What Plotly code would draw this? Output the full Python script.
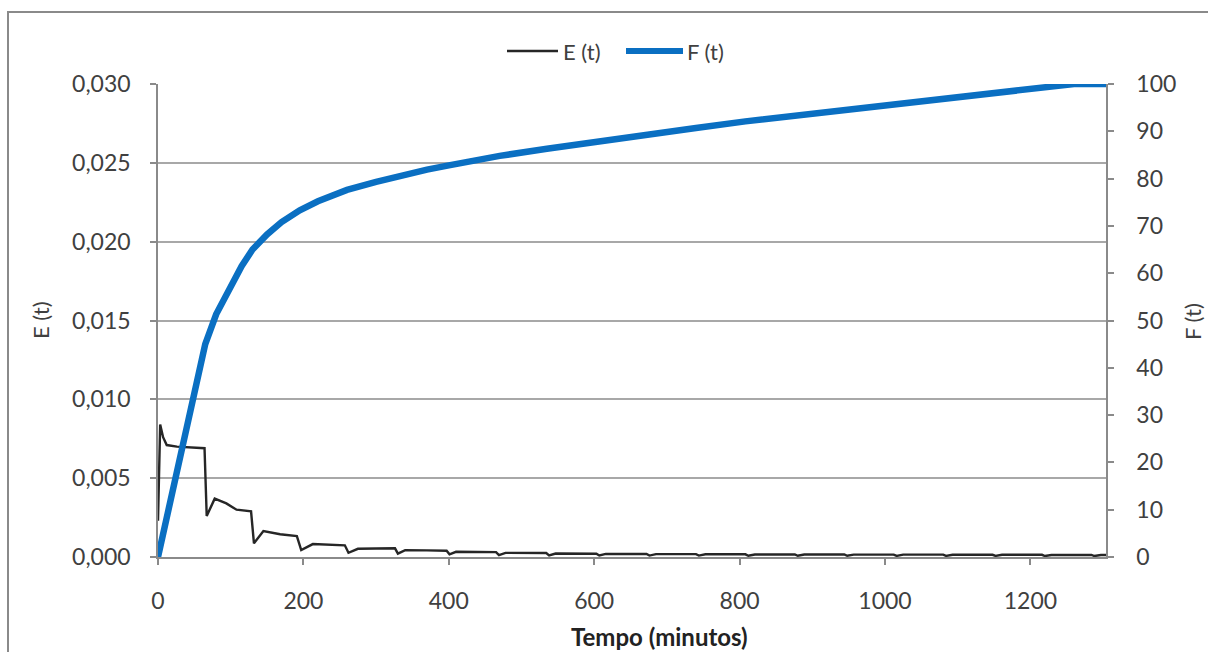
import plotly.graph_objects as go

# Residence-time distribution E(t) and cumulative curve F(t)
t_E = [0, 3, 7, 12, 26, 45, 64, 67, 78, 94, 108, 128, 132, 145, 168, 191,
       197, 213, 235, 257, 262, 275, 300, 326, 330, 340, 370, 397, 401, 410,
       440, 465, 469, 478, 534, 538, 547, 603, 607, 616, 672, 676, 685, 740,
       744, 753, 808, 812, 821, 876, 880, 889, 944, 948, 957, 1012, 1016,
       1025, 1080, 1084, 1093, 1148, 1152, 1161, 1216, 1220, 1229, 1284,
       1288, 1297, 1304]
E_vals = [0.0023, 0.0084, 0.0076, 0.0071, 0.0070, 0.00695, 0.0069, 0.0026,
          0.0037, 0.0034, 0.0030, 0.0029, 0.00087, 0.00165, 0.00144, 0.00133,
          0.00044, 0.00082, 0.00078, 0.00074, 0.00027, 0.00052, 0.00054,
          0.00055, 0.00021, 0.00043, 0.00042, 0.00040, 0.00017, 0.00033,
          0.00032, 0.00031, 0.00012, 0.00026, 0.00025, 0.00010, 0.00022,
          0.00021, 0.00010, 0.00020, 0.00019, 0.00009, 0.00018, 0.00018,
          0.00009, 0.00017, 0.00017, 0.00008, 0.00016, 0.00016, 0.00008,
          0.00016, 0.00016, 0.00008, 0.00015, 0.00015, 0.00007, 0.00015,
          0.00015, 0.00007, 0.00014, 0.00014, 0.00007, 0.00014, 0.00014,
          0.00006, 0.00013, 0.00013, 0.00006, 0.00013, 0.00013]

t_F = [0, 65, 80, 98, 115, 130, 150, 170, 195, 220, 260, 300, 330, 370, 400,
       430, 470, 535, 605, 672, 740, 808, 876, 944, 1012, 1080, 1148, 1216,
       1260, 1304]
F_vals = [0, 45, 51.3, 56.8, 61.5, 65, 68.2, 70.8, 73.3, 75.2, 77.6, 79.3,
          80.5, 81.9, 82.8, 83.7, 84.8, 86.3, 87.9, 89.3, 90.7, 92.1, 93.3,
          94.6, 95.8, 97.0, 98.1, 99.2, 100, 100]

x_ticks = [0, 200, 400, 600, 800, 1000, 1200]
e_ticks = [0, 0.005, 0.010, 0.015, 0.020, 0.025, 0.030]
f_ticks = list(range(0, 101, 10))

x_title = "Tempo (minutos)"
e_title = "E (t)"
f_title = "F (t)"

E_COLOR = "#262626"
F_COLOR = "#0a6fc2"
TXT = "#404040"
AX = "#8a8a8a"
GRID = "#a8a8a8"
FONT = "Lato, 'Open Sans', sans-serif"

W, H = 1208, 652
L, R, T, B = 158, 1106, 84, 557


def px(x):
    return (x - L) / (R - L)


def py(y):
    return (B - y) / (B - T)


fig = go.Figure()
fig.add_trace(go.Scatter(x=t_E, y=E_vals, mode="lines", name=e_title,
                         line=dict(color=E_COLOR, width=2.4), yaxis="y",
                         showlegend=False))
fig.add_trace(go.Scatter(x=t_F, y=F_vals, mode="lines", name=f_title,
                         line=dict(color=F_COLOR, width=6.5), yaxis="y2",
                         showlegend=False))

tickfont = dict(family=FONT, size=23, color=TXT)

fig.update_layout(
    width=W, height=H,
    margin=dict(l=L, r=W - R, t=T, b=H - B),
    paper_bgcolor="white", plot_bgcolor="white",
    separators=",.",
    xaxis=dict(range=[0, 1304], tickvals=x_ticks, showgrid=False,
               zeroline=False, showline=True, linecolor=AX, linewidth=1.5,
               ticks="outside", ticklen=6, tickcolor=AX, tickwidth=1.5,
               tickfont=tickfont, ticklabelstandoff=17),
    yaxis=dict(range=[0, 0.030], tickvals=e_ticks, tickformat=".3f",
               showgrid=True, gridcolor=GRID, gridwidth=1.5, zeroline=False,
               showline=True, linecolor=AX, linewidth=1.5, ticks="outside",
               ticklen=6, tickcolor=AX, tickwidth=1.5, tickfont=tickfont,
               ticklabelstandoff=15),
    yaxis2=dict(range=[0, 100], tickvals=f_ticks, overlaying="y",
                side="right", showgrid=False, zeroline=False, showline=True,
                linecolor=AX, linewidth=1.5, ticks="outside", ticklen=6,
                tickcolor=AX, tickwidth=1.5, tickfont=tickfont,
                ticklabelstandoff=18),
)

shapes = [
    # outer chart-area frame
    dict(type="rect", xref="paper", yref="paper", x0=px(8), x1=px(1216),
         y0=py(662), y1=py(12), line=dict(color=AX, width=2),
         fillcolor="rgba(0,0,0,0)", layer="below"),
    # legend samples
    dict(type="line", xref="paper", yref="paper", x0=px(507), x1=px(558),
         y0=py(51), y1=py(51), line=dict(color=E_COLOR, width=2.4)),
    dict(type="line", xref="paper", yref="paper", x0=px(626), x1=px(683),
         y0=py(51), y1=py(51), line=dict(color=F_COLOR, width=6)),
]

annotations = [
    dict(text=e_title, x=px(561), y=py(51), xanchor="left", yanchor="middle"),
    dict(text=f_title, x=px(685), y=py(51), xanchor="left", yanchor="middle"),
    dict(text=e_title, x=px(40), y=py(320), textangle=-90,
         xanchor="center", yanchor="middle"),
    dict(text=f_title, x=px(1192), y=py(322), textangle=-90,
         xanchor="center", yanchor="middle", borderpad=0),
    dict(text="<b>" + x_title + "</b>", x=px(659), y=py(636),
         xanchor="center", yanchor="middle", borderpad=0,
         font=dict(family=FONT, size=24, color="#222222")),
]
for a in annotations:
    a.setdefault("xref", "paper")
    a.setdefault("yref", "paper")
    a.setdefault("showarrow", False)
    a.setdefault("font", dict(family=FONT, size=22, color=TXT))

fig.update_layout(shapes=shapes, annotations=annotations)

fig.write_html("out.html")
